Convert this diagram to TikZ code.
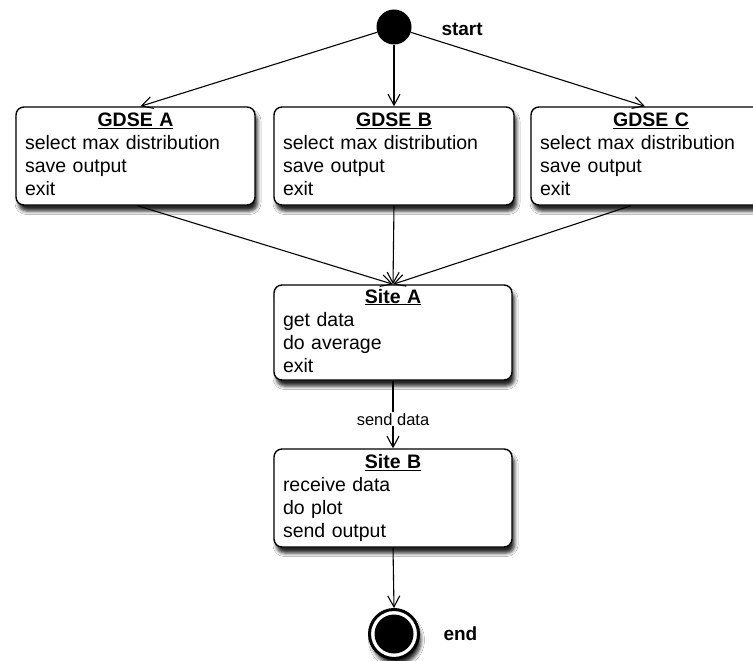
\documentclass[tikz,border=0pt]{standalone}
\usepackage{fontspec}
\setmainfont{Liberation Sans}
\usetikzlibrary{arrows.meta,shadows.blur}

% state text: centred underlined title, then left-aligned activities;
% the strut below the last line lifts the block towards the top edge
\newcommand{\statebody}[2]{%
  \makebox[\linewidth][c]{\underline{\textbf{#1}}}\\#2\rule[-4pt]{0pt}{4pt}}

\tikzset{
  arr/.style={draw, line width=1.1pt, -{Straight Barb[length=11pt,width=12pt,line width=1.1pt]}},
  softshadow/.style={blur shadow={shadow xshift=2.5pt, shadow yshift=-6pt,
      shadow blur radius=3.5pt, shadow opacity=85}},
  statebox/.style={draw, line width=1.4pt, rounded corners=8pt, fill=white,
      softshadow, minimum height=98pt, text width=#1, inner xsep=9pt,
      align=left, font=\fontsize{19.5}{23}\selectfont},
  statebox/.default=222pt,
  lbl/.style={font=\fontsize{19}{21}\selectfont\bfseries, anchor=west},
}

\begin{document}
\begin{tikzpicture}[x=1pt,y=-1pt]
  \useasboundingbox (0,0) rectangle (753,661);
  \fill[white] (0,0) rectangle (753,661);

  % initial and final states
  \node[circle, fill=black, minimum size=35pt, inner sep=0pt] (start) at (394,27) {};
  \node[lbl] (startlbl) at (438,29) {start};

  % GDSE states
  \node[statebox=221pt] (ga) at (135.5,156)
    {\statebody{GDSE A}{select max distribution\\save output\\exit}};
  \node[statebox=222pt] (gb) at (394,156)
    {\statebody{GDSE B}{select max distribution\\save output\\exit}};
  \node[statebox=222pt] (gc) at (651,156)
    {\statebody{GDSE C}{select max distribution\\save output\\exit}};

  % site states
  \node[statebox=220pt, minimum height=95pt] (sa) at (393,332.5)
    {\statebody{Site A}{get data\\do average\\exit}};
  \node[statebox=220pt] (sb) at (393,498)
    {\statebody{Site B}{receive data\\do plot\\send output}};

  \node[circle, draw, line width=3pt, fill=white, minimum size=49pt,
        inner sep=0pt, softshadow] (end) at (394,634) {};
  \fill[black] (end.center) circle (19.5pt);
  \node[lbl] (endlbl) at (440,634) {end};

  % transitions
  \draw[arr] (start) -- ([xshift=5pt]ga.north);
  \draw[arr] (start) -- (gb.north);
  \draw[arr] (start) -- ([xshift=-6pt]gc.north);

  \draw[arr] ([xshift=2pt]ga.south) -- (sa.north);
  \draw[arr] (gb.south) -- (sa.north);
  \draw[arr] ([xshift=-20pt]gc.south) -- (sa.north);

  \draw[arr] (sa.south) -- node[pos=0.57, fill=white, inner sep=1pt,
      font=\fontsize{16.5}{18}\selectfont] (sendlbl) {send data} (sb.north);
  \draw[arr] (sb.south) -- (end.north);
\end{tikzpicture}
\end{document}
